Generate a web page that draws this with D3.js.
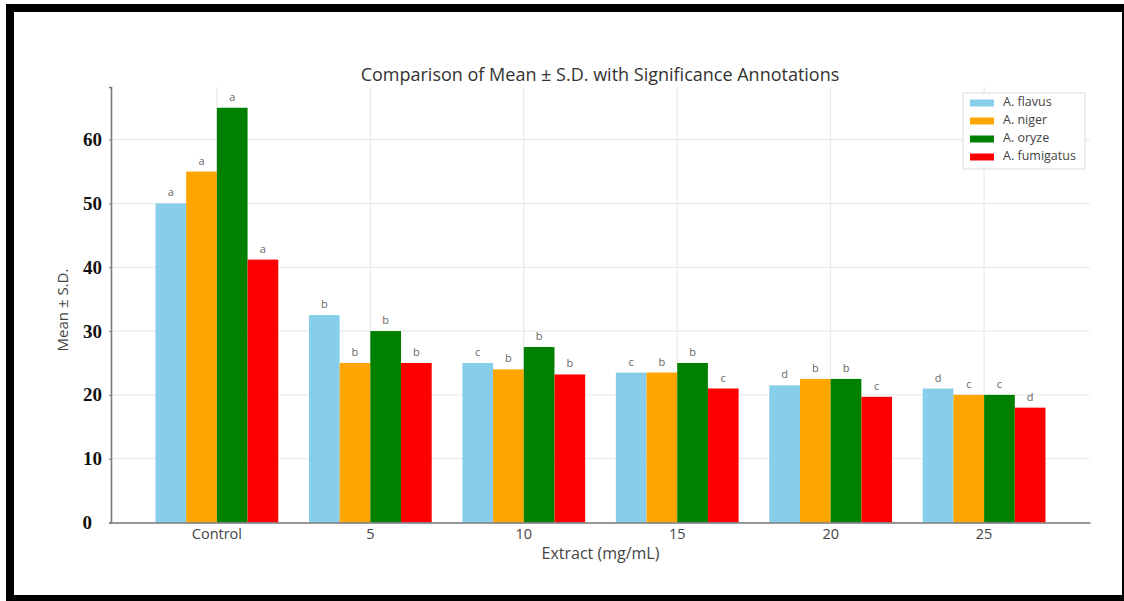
<!DOCTYPE html>
<html>
<head>
<meta charset="utf-8">
<script src="https://cdn.jsdelivr.net/npm/d3@7"></script>
<style>
  html, body { margin: 0; padding: 0; background: #fff; }
  svg { display: block; }
</style>
</head>
<body>
<div id="canvas"></div>
<script>
"use strict";

/* data */
let categories = ["Control", "5", "10", "15", "20", "25"];
let species = ["A. flavus", "A. niger", "A. oryze", "A. fumigatus"];
let flavus    = [50, 32.5, 25, 23.5, 21.5, 21];
let niger     = [55, 25, 24, 23.5, 22.5, 20];
let oryze     = [65, 30, 27.5, 25, 22.5, 20];
let fumigatus = [41.2, 25, 23.2, 21, 19.7, 18];
let letters = [
    ["a", "b", "c", "c", "d", "d"],
    ["a", "b", "b", "b", "b", "c"],
    ["a", "b", "b", "b", "b", "c"],
    ["a", "b", "b", "c", "c", "d"]
];
let yTicks = [0, 10, 20, 30, 40, 50, 60];
let colors = ["#87ceeb", "#ffa500", "#008000", "#ff0000"];

let seriesValues = [flavus, niger, oryze, fumigatus];

/* canvas */
let svgWidth = 1124;
let svgHeight = 601;

let plotLeft = 111;
let plotRight = 1090;
let plotTop = 87;
let plotBottom = 522.5;

let svg = d3.select("#canvas")
    .append("svg")
    .attr("width", svgWidth)
    .attr("height", svgHeight);

svg.append("rect")
    .attr("width", svgWidth)
    .attr("height", svgHeight)
    .attr("fill", "#fff");

/* scales */
let x0 = d3.scaleBand()
    .domain(categories)
    .range([plotLeft, plotRight])
    .paddingInner(0.2)
    .paddingOuter(0.29);

let x1 = d3.scaleBand()
    .domain(species)
    .range([0, x0.bandwidth()]);

let yScale = d3.scaleLinear()
    .domain([0, 68.25])
    .range([plotBottom, plotTop]);

/* grid */
svg.append("g")
    .selectAll("line")
    .data(yTicks)
    .join("line")
    .attr("x1", plotLeft)
    .attr("x2", plotRight)
    .attr("y1", d => yScale(d))
    .attr("y2", d => yScale(d))
    .attr("stroke", "#e6e6e6")
    .attr("stroke-width", 1);

svg.append("g")
    .selectAll("line")
    .data(categories)
    .join("line")
    .attr("x1", d => x0(d) + x0.bandwidth() / 2)
    .attr("x2", d => x0(d) + x0.bandwidth() / 2)
    .attr("y1", plotTop)
    .attr("y2", plotBottom)
    .attr("stroke", "#e6e6e6")
    .attr("stroke-width", 1);

/* bars */
let rows = [];
categories.forEach(function(cat, i) {
    species.forEach(function(sp, j) {
        rows.push({cat: cat, sp: sp, j: j, value: seriesValues[j][i], letter: letters[j][i]});
    });
});

svg.append("g")
    .selectAll("rect")
    .data(rows)
    .join("rect")
    .attr("x", d => x0(d.cat) + x1(d.sp))
    .attr("y", d => yScale(d.value))
    .attr("width", x1.bandwidth())
    .attr("height", d => yScale(0) - yScale(d.value))
    .attr("fill", d => colors[d.j]);

/* significance letters */
svg.append("g")
    .selectAll("text")
    .data(rows)
    .join("text")
    .attr("x", d => x0(d.cat) + x1(d.sp) + x1.bandwidth() / 2)
    .attr("y", d => yScale(d.value) - 7)
    .attr("text-anchor", "middle")
    .attr("font-family", "Open Sans, sans-serif")
    .attr("font-size", 11)
    .attr("fill", "#666")
    .text(d => d.letter);

/* axes */
let xAxis = svg.append("g")
    .attr("transform", "translate(0," + plotBottom + ")")
    .call(d3.axisBottom(x0).tickSize(0).tickPadding(6));
xAxis.select(".domain").attr("stroke", "#777").attr("stroke-width", 1.6);
xAxis.selectAll("text")
    .attr("font-family", "Open Sans, sans-serif")
    .attr("font-size", 14.5)
    .attr("fill", "#444");

let yAxis = svg.append("g")
    .attr("transform", "translate(" + plotLeft + ",0)")
    .call(d3.axisLeft(yScale).tickValues(yTicks).tickSize(2).tickPadding(7));
yAxis.select(".domain").attr("stroke", "#777").attr("stroke-width", 1.6);
yAxis.selectAll(".tick line").attr("stroke", "#777");
yAxis.selectAll("text")
    .attr("font-family", "Liberation Serif, Times New Roman, serif")
    .attr("font-weight", "bold")
    .attr("font-size", 19)
    .attr("fill", "#111")
    .attr("dx", d => d === 0 ? -10 : 0);

/* labels */
svg.append("text")
    .attr("x", 600)
    .attr("y", 81)
    .attr("text-anchor", "middle")
    .attr("font-family", "Open Sans, sans-serif")
    .attr("font-size", 18)
    .attr("fill", "#333")
    .text("Comparison of Mean \u00b1 S.D. with Significance Annotations");

svg.append("text")
    .attr("x", (plotLeft + plotRight) / 2)
    .attr("y", 559)
    .attr("text-anchor", "middle")
    .attr("font-family", "Open Sans, sans-serif")
    .attr("font-size", 16)
    .attr("fill", "#444")
    .text("Extract (mg/mL)");

svg.append("text")
    .attr("transform", "translate(68,310) rotate(-90)")
    .attr("text-anchor", "middle")
    .attr("font-family", "Open Sans, sans-serif")
    .attr("font-size", 15)
    .attr("fill", "#444")
    .text("Mean \u00b1 S.D.");

/* legend */
let legendX = 963;
let legendY = 93;

svg.append("rect")
    .attr("x", legendX)
    .attr("y", legendY)
    .attr("width", 122)
    .attr("height", 76)
    .attr("fill", "#fff")
    .attr("stroke", "#ddd");

species.forEach(function(sp, i) {
    svg.append("rect")
        .attr("x", legendX + 7)
        .attr("y", legendY + 10 + i * 18 - 3.5)
        .attr("width", 24)
        .attr("height", 7)
        .attr("fill", colors[i]);

    svg.append("text")
        .attr("x", legendX + 40)
        .attr("y", legendY + 10 + i * 18)
        .attr("dominant-baseline", "middle")
        .attr("font-family", "Open Sans, sans-serif")
        .attr("font-size", 12.5)
        .attr("fill", "#444")
        .text(sp);
});

/* outer frame */
svg.append("rect")
    .attr("x", 10)
    .attr("y", 8)
    .attr("width", 1116)
    .attr("height", 591)
    .attr("fill", "none")
    .attr("stroke", "#000")
    .attr("stroke-width", 8);
</script>
</body>
</html>
